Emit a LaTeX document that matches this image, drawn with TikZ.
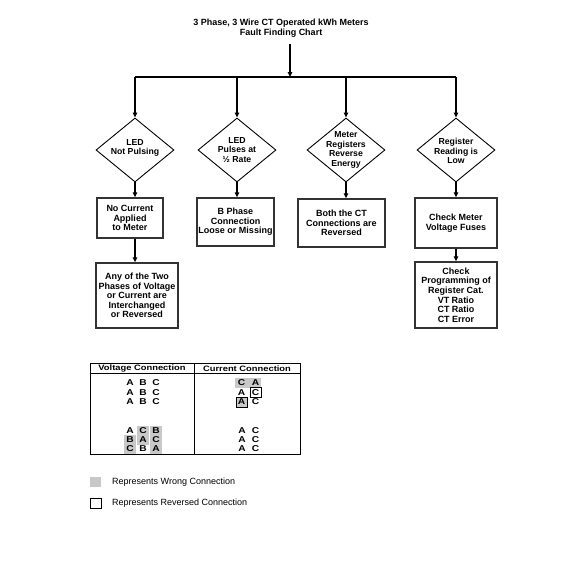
\documentclass[tikz,border=0pt]{standalone}
\usepackage{fontspec}
\setmainfont{Liberation Sans}
\newfontfamily\tabfont[FakeStretch=1.2]{Liberation Sans}
\usetikzlibrary{shapes.geometric,arrows.meta}
\definecolor{wronggray}{RGB}{200,200,200}
\begin{document}
\begin{tikzpicture}[x=1pt,y=-1pt,
  arr/.style={-{Triangle[length=5pt,width=4.5pt]}, line width=1.3pt},
  dia/.style={diamond, draw, line width=0.9pt, minimum width=78pt, minimum height=64pt, inner sep=0pt},
  dtext/.style={align=center, inner sep=0pt, font=\fontsize{8.7}{9.8}\selectfont\bfseries},
  box/.style={rectangle, draw=black!80, line width=1.4pt, align=center, inner sep=0pt, font=\fontsize{9}{9.6}\selectfont\bfseries},
  tabtxt/.style={inner sep=0pt, font=\tabfont\fontsize{8.5}{9}\selectfont\bfseries},
  tabhead/.style={inner sep=0pt, font=\tabfont\fontsize{7.8}{9}\selectfont\bfseries},
  legtxt/.style={anchor=west, inner sep=0pt, font=\fontsize{9}{10}\selectfont},
  wrong/.style={fill=wronggray},
]
\useasboundingbox (0,0) rectangle (576,576);

% title
\node[align=center, inner sep=0pt, font=\fontsize{9}{10}\selectfont\bfseries] (title) at (281,28)
  {3 Phase, 3 Wire CT Operated kWh Meters\\Fault Finding Chart};
\coordinate (busc) at (290,77);

% diamonds
\node[dia] (d1) at (135,150) {};
\node[dia] (d2) at (237,150) {};
\node[dia] (d3) at (346,150) {};
\node[dia] (d4) at (456,150) {};
\node[dtext] (d1t) at (135,148) {LED\\Not Pulsing};
\node[dtext] (d2t) at (237,150) {LED\\Pulses at\\½ Rate};
\node[dtext] (d3t) at (346,150) {Meter\\Registers\\Reverse\\Energy};
\node[dtext] (d4t) at (456,151) {Register\\Reading is\\Low};

% boxes
\node[box, minimum width=66pt, minimum height=40pt] (b1) at (130,218) {No Current\\Applied\\to Meter};
\node[box, minimum width=77pt, minimum height=48pt] (b2) at (235.5,222) {B Phase\\Connection\\Loose or Missing};
\node[box, minimum width=87pt, minimum height=48pt] (b3) at (341.5,223) {Both the CT\\Connections are\\Reversed};
\node[box, minimum width=82pt, minimum height=50pt] (b4) at (456,223) {Check Meter\\Voltage Fuses};
\node[box, minimum width=82pt, minimum height=65pt] (b5) at (137,295.5) {Any of the Two\\Phases of Voltage\\or Current are\\Interchanged\\or Reversed};
\node[box, minimum width=82pt, minimum height=66pt] (b6) at (456,295) {Check\\Programming of\\Register Cat.\\VT Ratio\\CT Ratio\\CT Error};

% connectors
\draw[arr] ([yshift=-7pt]title.south -| busc) -- (busc);
\draw[line width=1.3pt] (d1.north |- busc) -- (d4.north |- busc);
\draw[arr] (d1.north |- busc) -- (d1.north);
\draw[arr] (d2.north |- busc) -- (d2.north);
\draw[arr] (d3.north |- busc) -- (d3.north);
\draw[arr] (d4.north |- busc) -- (d4.north);
\draw[arr] (d1.south) -- (d1.south |- b1.north);
\draw[arr] (d2.south) -- (d2.south |- b2.north);
\draw[arr] (d3.south) -- (d3.south |- b3.north);
\draw[arr] (d4.south) -- (d4.south |- b4.north);
\draw[arr] (b1.south -| d1.south) -- (b5.north -| d1.south);
\draw[arr] (b4.south) -- (b6.north);

% table shading
\foreach \cx/\cy in {143/431,156/431,130/440,143/440,156/440,130/449,156/449}
  \fill[wrong] (\cx-6,\cy-4.8) rectangle (\cx+6,\cy+4.8);
\fill[wrong] (235,378) rectangle (261,387.5);
\fill[wrong] (236,397.5) rectangle (247,407.5);
\draw[line width=0.8pt] (236,397.5) rectangle (247,407.5);
\draw[line width=0.8pt] (250,387.5) rectangle (261,397.5);

% table frame
\draw[line width=0.8pt] (90,363) rectangle (300,454);
\draw[line width=0.8pt] (90,373) -- (300,373);
\draw[line width=0.8pt] (194,363) -- (194,454);
\node[tabhead] (vh) at (142,368.3) {Voltage Connection};
\node[tabhead] (ch) at (247,368.3) {Current Connection};

% voltage letters
\node[tabtxt] (v11) at (130,383) {A}; \node[tabtxt] (v12) at (143,383) {B}; \node[tabtxt] (v13) at (156,383) {C};
\node[tabtxt] (v21) at (130,392.5) {A}; \node[tabtxt] (v22) at (143,392.5) {B}; \node[tabtxt] (v23) at (156,392.5) {C};
\node[tabtxt] (v31) at (130,402) {A}; \node[tabtxt] (v32) at (143,402) {B}; \node[tabtxt] (v33) at (156,402) {C};
\node[tabtxt] (v41) at (130,431) {A}; \node[tabtxt] (v42) at (143,431) {C}; \node[tabtxt] (v43) at (156,431) {B};
\node[tabtxt] (v51) at (130,440) {B}; \node[tabtxt] (v52) at (143,440) {A}; \node[tabtxt] (v53) at (156,440) {C};
\node[tabtxt] (v61) at (130,449) {C}; \node[tabtxt] (v62) at (143,449) {B}; \node[tabtxt] (v63) at (156,449) {A};

% current letters
\node[tabtxt] (c11) at (241.5,383) {C}; \node[tabtxt] (c12) at (255.5,383) {A};
\node[tabtxt] (c21) at (241.5,392.5) {A}; \node[tabtxt] (c22) at (255.5,392.5) {C};
\node[tabtxt] (c31) at (241.5,402) {A}; \node[tabtxt] (c32) at (255.5,402) {C};
\node[tabtxt] (c41) at (242,431) {A}; \node[tabtxt] (c42) at (255.5,431) {C};
\node[tabtxt] (c51) at (242,440) {A}; \node[tabtxt] (c52) at (255.5,440) {C};
\node[tabtxt] (c61) at (242,449) {A}; \node[tabtxt] (c62) at (255.5,449) {C};

% legend
\fill[wrong] (90,477) rectangle (101,487);
\draw[line width=1pt] (90,498) rectangle (101,508);
\node[legtxt] (l1) at (112,482.5) {Represents Wrong Connection};
\node[legtxt] (l2) at (112,503.5) {Represents Reversed Connection};
\end{tikzpicture}
\end{document}
